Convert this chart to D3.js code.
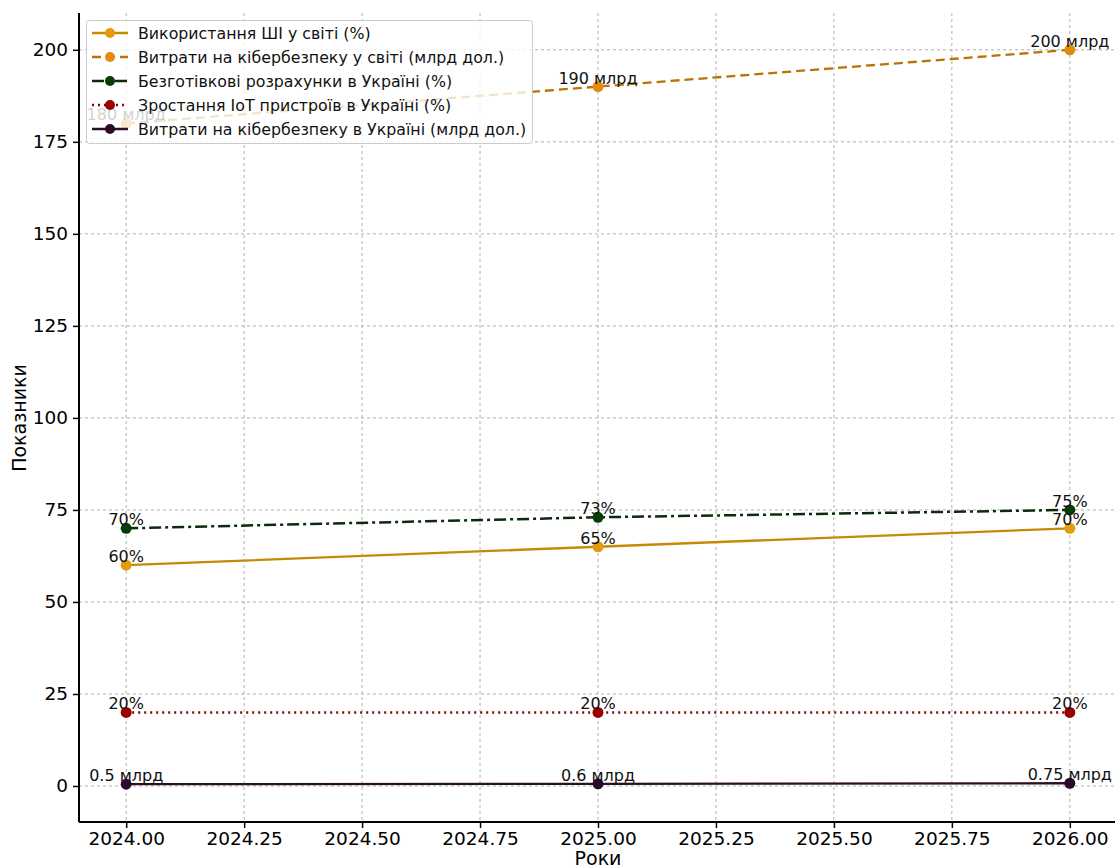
<!DOCTYPE html>
<html><head><meta charset="utf-8">
<script src="https://cdn.jsdelivr.net/npm/d3@7"></script>
<style>body{margin:0;background:#fff}svg{display:block;font-family:"DejaVu Sans",sans-serif}</style>
</head><body><svg id="c" width="1115" height="868"></svg>
<script>
const years = [2024, 2025, 2026];
const aiUse = [60, 65, 70];
const cyberWorld = [180, 190, 200];
const cashlessUA = [70, 73, 75];
const iotUA = [20, 20, 20];
const cyberUA = [0.5, 0.6, 0.75];
const aiLabels = ["60%", "65%", "70%"];
const cyberWorldLabels = ["180 млрд", "190 млрд", "200 млрд"];
const cashlessLabels = ["70%", "73%", "75%"];
const iotLabels = ["20%", "20%", "20%"];
const cyberUALabels = ["0.5 млрд", "0.6 млрд", "0.75 млрд"];
const xTicks = [2024, 2024.25, 2024.5, 2024.75, 2025, 2025.25, 2025.5, 2025.75, 2026];
const yTicks = [0, 25, 50, 75, 100, 125, 150, 175, 200];

const series = [
  {name:"Використання ШІ у світі (%)", values:aiUse, labels:aiLabels, line:"#c58a06", marker:"#e59b0e", dash:null, w:2.3},
  {name:"Витрати на кібербезпеку у світі (млрд дол.)", values:cyberWorld, labels:cyberWorldLabels, line:"#b77400", marker:"#e08c0c", dash:"9,5", w:2.3},
  {name:"Безготівкові розрахунки в Україні (%)", values:cashlessUA, labels:cashlessLabels, line:"#0e2a0e", marker:"#053d05", dash:"12,4,3,4", w:2.5},
  {name:"Зростання IoT пристроїв в Україні (%)", values:iotUA, labels:iotLabels, line:"#7a0a0a", marker:"#9a0000", dash:"2,4", w:2.5},
  {name:"Витрати на кібербезпеку в Україні (млрд дол.)", values:cyberUA, labels:cyberUALabels, line:"#2a0f26", marker:"#2a0a28", dash:null, w:2.3}
];

const svg = d3.select("#c");
const x = d3.scaleLinear().domain([2023.9, 2026.1]).range([79, 1117]);
const y = d3.scaleLinear().domain([-9.78, 210]).range([822, 13]);

// grid
const g = svg.append("g");
g.selectAll(".vg").data(xTicks).join("line")
  .attr("x1", d=>x(d)).attr("x2", d=>x(d)).attr("y1", 13).attr("y2", 822)
  .attr("stroke", "#b0b0b0").attr("stroke-width", 1).attr("stroke-dasharray", "3,3");
g.selectAll(".hg").data(yTicks).join("line")
  .attr("x1", 79).attr("x2", 1117).attr("y1", d=>y(d)).attr("y2", d=>y(d))
  .attr("stroke", "#b0b0b0").attr("stroke-width", 1).attr("stroke-dasharray", "3,3");

// axes
const xAxis = svg.append("g").attr("transform", "translate(0,822)")
  .call(d3.axisBottom(x).tickValues(xTicks).tickFormat(d3.format(".2f")).tickSize(6).tickPadding(4));
const yAxis = svg.append("g").attr("transform", "translate(79,0)")
  .call(d3.axisLeft(y).tickValues(yTicks).tickFormat(d3.format("d")).tickSize(6).tickPadding(5));
[xAxis, yAxis].forEach(a => {
  a.select(".domain").attr("stroke", "#000").attr("stroke-width", 2);
  a.selectAll(".tick line").attr("stroke", "#000").attr("stroke-width", 1.5);
  a.selectAll("text").attr("font-size", 18.5).attr("fill", "#000").attr("font-family", "DejaVu Sans");
});
xAxis.select(".domain").attr("d", "M79,0H1117");
yAxis.select(".domain").attr("d", "M0,13V822");

svg.append("text").attr("x", 598).attr("y", 865).attr("text-anchor", "middle")
  .attr("font-size", 19).text("Роки");
svg.append("text").attr("transform", "translate(26,418) rotate(-90)").attr("text-anchor", "middle")
  .attr("font-size", 19).text("Показники");

// lines
const line = d3.line().x((d,i)=>x(years[i])).y(d=>y(d));
series.forEach(s => {
  svg.append("path").datum(s.values).attr("d", line).attr("fill", "none")
    .attr("stroke", s.line).attr("stroke-width", s.w)
    .attr("stroke-dasharray", s.dash);
  svg.selectAll(null).data(s.values).join("circle")
    .attr("cx", (d,i)=>x(years[i])).attr("cy", d=>y(d)).attr("r", 5.5)
    .attr("fill", s.marker);
});
// labels
series.forEach(s => {
  svg.selectAll(null).data(s.values).join("text")
    .attr("x", (d,i)=>x(years[i])).attr("y", d=>y(d)-3)
    .attr("text-anchor", "middle").attr("font-size", 16).attr("fill", "#111")
    .text((d,i)=>s.labels[i]);
});

// legend
const lg = svg.append("g");
lg.append("rect").attr("x", 86.5).attr("y", 20.5).attr("width", 446).attr("height", 123).attr("rx", 3)
  .attr("fill", "#fff").attr("fill-opacity", 0.8).attr("stroke", "#cccccc");
series.forEach((s, i) => {
  const yy = 33 + i * 24;
  lg.append("line").attr("x1", 92).attr("x2", 128).attr("y1", yy).attr("y2", yy)
    .attr("stroke", s.line).attr("stroke-width", s.w).attr("stroke-dasharray", s.dash);
  lg.append("circle").attr("cx", 110).attr("cy", yy).attr("r", 5).attr("fill", s.marker);
  lg.append("text").attr("x", 138).attr("y", yy + 5.5).attr("font-size", 15.8).attr("fill", "#111").text(s.name);
});
</script></body></html>
